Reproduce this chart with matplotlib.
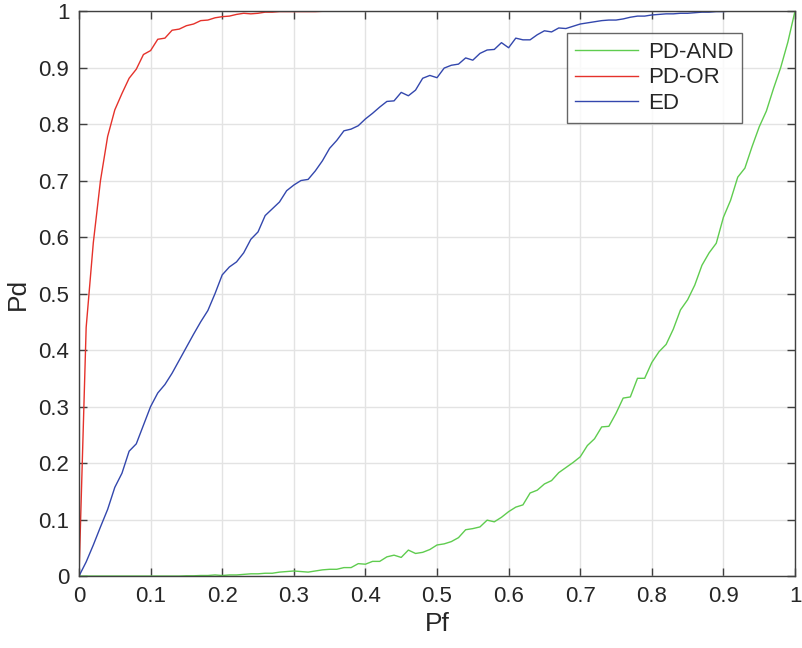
import numpy as np
import matplotlib
matplotlib.use("Agg")
import matplotlib.pyplot as plt

plt.rcParams['font.family'] = ['Liberation Sans', 'DejaVu Sans']

# false alarm probability grid (step 0.01)
pf = np.round(np.arange(0, 101) * 0.01, 2)

# PD-AND (green)
pd_and = [0, 0, 0, 0, 0, 0, 0, 0, 0, 0,
          0, 0, 0, 0, 0, 0.0005, 0.0005, 0.001, 0.001, 0.002,
          0.001, 0.002, 0.002, 0.003, 0.004, 0.004, 0.005, 0.005, 0.007, 0.008,
          0.009, 0.008, 0.007, 0.009, 0.011, 0.012, 0.012, 0.015, 0.015, 0.022,
          0.021, 0.026, 0.026, 0.034, 0.037, 0.033, 0.046, 0.040, 0.042, 0.047,
          0.055, 0.057, 0.061, 0.068, 0.082, 0.084, 0.087, 0.099, 0.096, 0.104,
          0.114, 0.122, 0.126, 0.147, 0.152, 0.163, 0.169, 0.183, 0.192, 0.201,
          0.211, 0.231, 0.243, 0.264, 0.265, 0.288, 0.315, 0.317, 0.350, 0.350,
          0.378, 0.397, 0.410, 0.437, 0.471, 0.489, 0.515, 0.550, 0.572, 0.589,
          0.635, 0.665, 0.706, 0.722, 0.760, 0.795, 0.823, 0.863, 0.900, 0.945,
          1.0]

# PD-OR (red)
pd_or = [0, 0.44, 0.59, 0.70, 0.778, 0.825, 0.854, 0.881, 0.897, 0.923,
         0.930, 0.950, 0.952, 0.966, 0.968, 0.974, 0.977, 0.983, 0.984, 0.988,
         0.990, 0.991, 0.994, 0.996, 0.995, 0.996, 0.998, 0.998, 0.999, 0.999,
         0.999, 0.999, 0.999, 0.999, 0.9995, 0.9995, 1, 1, 1, 1,
         1, 1, 1, 1, 1, 1, 1, 1, 1, 1,
         1, 1, 1, 1, 1, 1, 1, 1, 1, 1,
         1, 1, 1, 1, 1, 1, 1, 1, 1, 1,
         1, 1, 1, 1, 1, 1, 1, 1, 1, 1,
         1, 1, 1, 1, 1, 1, 1, 1, 1, 1,
         1, 1, 1, 1, 1, 1, 1, 1, 1, 1,
         1]

# ED (blue)
ed = [0, 0.025, 0.055, 0.087, 0.118, 0.157, 0.182, 0.221, 0.234, 0.267,
      0.300, 0.324, 0.339, 0.359, 0.382, 0.405, 0.428, 0.450, 0.470, 0.500,
      0.533, 0.547, 0.556, 0.572, 0.596, 0.609, 0.638, 0.650, 0.662, 0.682,
      0.692, 0.700, 0.702, 0.717, 0.735, 0.757, 0.771, 0.788, 0.791, 0.797,
      0.809, 0.819, 0.830, 0.840, 0.841, 0.856, 0.850, 0.860, 0.881, 0.886,
      0.882, 0.899, 0.904, 0.906, 0.917, 0.913, 0.925, 0.931, 0.932, 0.944,
      0.935, 0.952, 0.949, 0.949, 0.958, 0.965, 0.963, 0.970, 0.969, 0.973,
      0.977, 0.979, 0.981, 0.983, 0.984, 0.984, 0.986, 0.989, 0.991, 0.991,
      0.993, 0.994, 0.995, 0.995, 0.996, 0.996, 0.997, 0.998, 0.998, 0.999,
      0.999, 1, 1, 1, 1, 1, 1, 1, 1, 1,
      1]

xticks = np.round(np.arange(0, 11) * 0.1, 1)
yticks = np.round(np.arange(0, 11) * 0.1, 1)
tick_labels = ['0'] + [f'{t:g}' for t in xticks[1:-1]] + ['1']

fig = plt.figure(figsize=(8.02, 6.48), dpi=100)
ax = fig.add_axes([0.0985, 0.111, 0.8928, 0.872])

ax.plot(pf, pd_and, color='#5fcc4f', lw=1.0, label='PD-AND')
ax.plot(pf, pd_or, color='#e5322b', lw=1.0, label='PD-OR')
ax.plot(pf, ed, color='#3347ad', lw=1.0, label='ED')

ax.set_xlim(0, 1)
ax.set_ylim(0, 1)
ax.set_xticks(xticks)
ax.set_yticks(yticks)
ax.set_xticklabels(tick_labels)
ax.set_yticklabels(tick_labels)
ax.grid(True, color='#e3e3e3', lw=1.0)
ax.set_axisbelow(True)

for s in ax.spines.values():
    s.set_color('#404040')
    s.set_linewidth(1.0)
ax.tick_params(direction='in', length=6, width=1.0, color='#404040',
               top=True, right=True, labelsize=16, labelcolor='#262626', pad=7)

ax.set_xlabel('Pf', fontsize=19, color='#262626', labelpad=4)
ax.set_ylabel('Pd', fontsize=19, color='#262626', labelpad=6)

leg = ax.legend(loc='upper right', bbox_to_anchor=(0.926, 0.961), fontsize=16,
                frameon=True, fancybox=False, handlelength=2.8, borderpad=0.4,
                labelspacing=0.2, handletextpad=0.45, borderaxespad=0)
leg.get_frame().set_edgecolor('#404040')
leg.get_frame().set_linewidth(1.0)
for t in leg.get_texts():
    t.set_color('#262626')

fig.savefig('out.png', dpi=100)
